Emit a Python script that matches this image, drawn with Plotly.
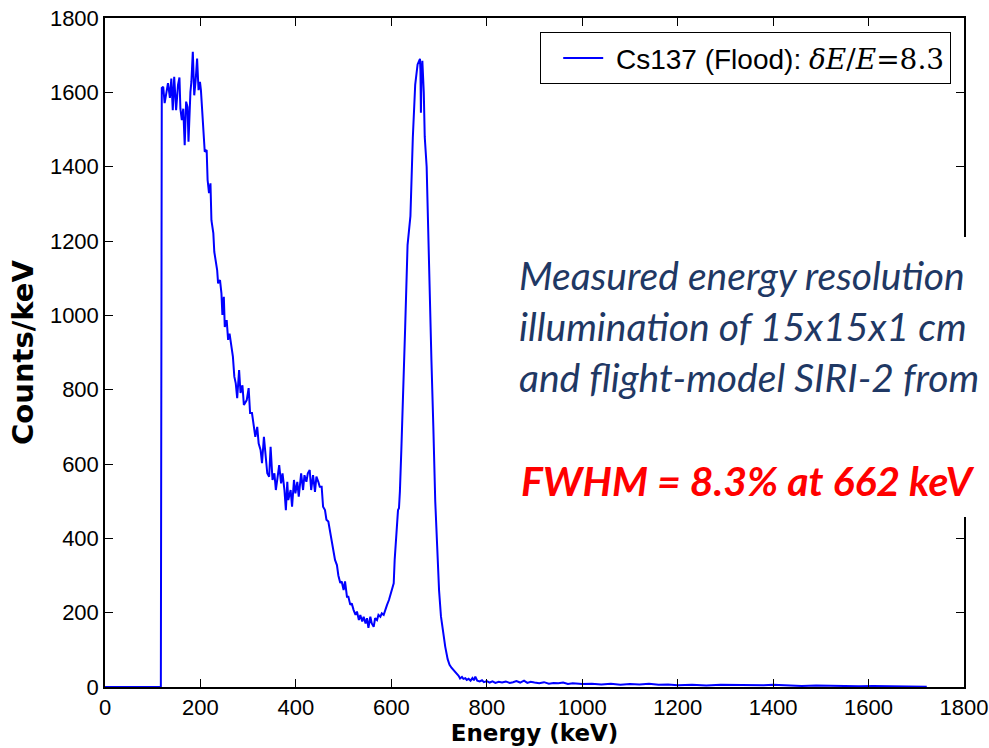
import plotly.graph_objects as go

# Cs137 flood spectrum
energy_kev = [0, 40, 80, 117, 119, 122, 125, 129, 132, 136, 139, 142, 145, 149, 153, 156, 158, 161, 164, 167,
              170, 173, 175, 179, 181, 184, 187, 190, 193, 196, 199, 201, 203, 207, 209, 213, 215, 218, 221, 223,
              227, 229, 232, 235, 237, 241, 244, 246, 249, 251, 255, 258, 261, 265, 268, 271, 274, 277, 281, 284,
              288, 291, 297, 301, 304, 308, 312, 315, 319, 322, 326, 329, 333, 337, 340, 344, 347, 351, 355, 358,
              362, 365, 369, 372, 376, 379, 382, 384, 389, 392, 396, 399, 403, 406, 411, 415, 418, 422, 425, 429,
              432, 436, 440, 443, 447, 450, 454, 457, 461, 464, 468, 471, 475, 479, 482, 486, 489, 493, 496, 500,
              503, 507, 510, 514, 517, 521, 525, 528, 532, 535, 539, 542, 546, 549, 552, 556, 559, 563, 566, 570,
              573, 577, 580, 584, 587, 591, 595, 598, 602, 605, 607, 611, 614, 616, 618, 621, 624, 629, 634, 637,
              640, 645, 650, 655, 658, 660, 661, 662, 663, 665, 668, 670, 674, 677, 681, 684, 688, 692, 696, 700,
              704, 708, 713, 718, 722, 726, 730, 734, 737, 741, 744, 748, 751, 755, 758, 762, 766, 770, 773, 776,
              780, 785, 790, 794, 800, 806, 812, 818, 825, 832, 840, 848, 855, 862, 870, 878, 885, 892, 900, 910,
              920, 930, 940, 950, 960, 970, 980, 990, 1000, 1020, 1040, 1060, 1080, 1100, 1120, 1140, 1160, 1180,
              1200, 1230, 1260, 1290, 1320, 1350, 1380, 1400, 1430, 1460, 1490, 1520, 1550, 1580, 1610, 1640, 1660,
              1680, 1700, 1722]
counts_per_kev = [0, 0, 0, 0, 1612, 1615, 1571, 1610, 1625, 1585, 1637, 1552, 1642, 1552, 1620, 1640, 1556, 1525, 1556, 1458,
                  1575, 1560, 1467, 1601, 1628, 1709, 1592, 1633, 1691, 1606, 1628, 1606, 1561, 1498, 1440, 1445, 1364, 1329, 1355, 1256,
                  1221, 1171, 1149, 1122, 1086, 1095, 1059, 1001, 1050, 969, 987, 934, 951, 907, 889, 835, 817, 777, 853, 791,
                  812, 759, 772, 804, 737, 737, 700, 673, 700, 655, 638, 602, 673, 611, 575, 566, 646, 557, 575, 530,
                  575, 597, 548, 575, 530, 476, 552, 503, 530, 485, 557, 521, 552, 512, 575, 530, 570, 552, 575, 584,
                  530, 570, 525, 566, 552, 539, 539, 485, 476, 450, 445, 425, 395, 369, 342, 328, 300, 280, 284, 261,
                  284, 243, 243, 221, 225, 207, 194, 203, 180, 194, 176, 189, 171, 185, 159, 189, 171, 162, 185, 180,
                  194, 189, 198, 194, 207, 221, 234, 248, 261, 279, 342, 413, 476, 481, 527, 640, 748, 968, 1189, 1240,
                  1267, 1477, 1620, 1675, 1682, 1690, 1660, 1545, 1640, 1685, 1600, 1480, 1400, 1220, 1000, 880, 700, 500, 380, 260,
                  190, 150, 108, 75, 60, 52, 46, 40, 37, 30, 23, 27, 22, 24, 19, 22, 17, 24, 18, 28,
                  17, 15, 18, 13, 16, 12, 15, 11, 14, 12, 15, 11, 13, 16, 12, 17, 11, 14, 12, 10,
                  13, 9, 11, 10, 12, 8, 10, 9, 8, 9, 7, 9, 6, 8, 7, 9, 6, 7,
                  5, 6, 4, 6, 5, 4, 5, 6, 4, 3, 4, 3, 3, 2, 3, 2, 2,
                  1, 1, 1]

legend_label = ("\u00a0Cs137 (Flood): <span style=\"font-family:DejaVu Serif\">"
                "<i>δE</i>/<i>E</i>=8.3</span>")
x_tick_vals = [0, 200, 400, 600, 800, 1000, 1200, 1400, 1600, 1800]
y_tick_vals = [0, 200, 400, 600, 800, 1000, 1200, 1400, 1600, 1800]
note_lines = ["Measured energy resolution",
              "illumination of 15x15x1 cm",
              "and flight-model SIRI-2 from"]
fwhm_text = "FWHM = 8.3% at 662 keV"

W, H = 989, 748
L, R, T, B = 105, 25, 18, 61
PW, PH = W - L - R, H - T - B

def px(xp):
    return (xp - L) / PW

def py(yp):
    return (H - B - yp) / PH

fig = go.Figure()
fig.add_trace(go.Scatter(x=energy_kev, y=counts_per_kev, mode="lines",
                         line=dict(color="#0000ff", width=2),
                         name=legend_label, showlegend=True))

axis_common = dict(showline=True, linecolor="black", linewidth=1.5, mirror="ticks",
                   ticks="inside", ticklen=8, tickwidth=1, tickcolor="black",
                   showgrid=False, zeroline=False, automargin=False,
                   tickfont=dict(family="Liberation Sans, Arial", size=22, color="black"))

fig.update_xaxes(range=[0, 1800], tickvals=x_tick_vals,
                 title=dict(text="<b>Energy (keV)</b>", standoff=6,
                            font=dict(family="DejaVu Sans", size=23, color="black")),
                 **axis_common)
fig.update_yaxes(range=[0, 1800], tickvals=y_tick_vals,
                 title=dict(text="<b>Counts/keV</b>", standoff=8,
                            font=dict(family="DejaVu Sans", size=29, color="black")),
                 **axis_common)

# white text panel overlapping the right part of the chart
fig.add_shape(type="rect", xref="paper", yref="paper",
              x0=px(505), x1=px(1000), y0=py(517), y1=py(237),
              fillcolor="white", line=dict(width=0), layer="above")

ys = [275, 326, 377]
for txt, yy in zip(note_lines, ys):
    fig.add_annotation(xref="paper", yref="paper", x=px(517), y=py(yy),
                       xanchor="left", yanchor="middle", showarrow=False,
                       text="<i>" + txt + "</i>",
                       font=dict(family="Lato, Open Sans", size=39, color="#1f3864"))
fig.add_annotation(xref="paper", yref="paper", x=px(519), y=py(480),
                   xanchor="left", yanchor="middle", showarrow=False,
                   text="<b><i>" + fwhm_text + "</i></b>",
                   font=dict(family="Lato, Open Sans", size=41, color="#ff0000"))

fig.update_layout(
    width=W, height=H,
    margin=dict(l=L, r=R, t=T, b=B, autoexpand=False),
    paper_bgcolor="white", plot_bgcolor="white",
    showlegend=True,
    legend=dict(x=px(951), y=py(32), xanchor="right", yanchor="top",
                bgcolor="white", bordercolor="black", borderwidth=1.2,
                font=dict(family="Liberation Sans, Arial", size=28, color="black"),
                itemwidth=40, indentation=17),
)

fig.write_html("out.html")
